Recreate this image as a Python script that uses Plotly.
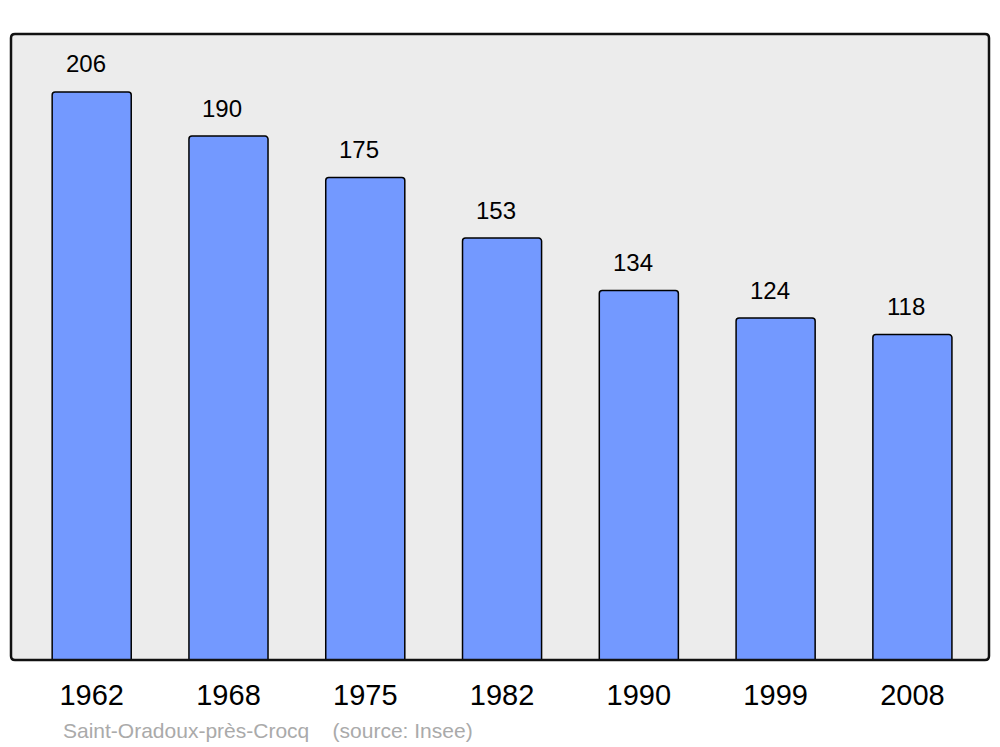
import plotly.graph_objects as go

years = ["1962", "1968", "1975", "1982", "1990", "1999", "2008"]
population = [206, 190, 175, 153, 134, 124, 118]
commune = "Saint-Oradoux-près-Crocq"
source = "(source: Insee)"

W, H = 1000, 747
# page body adds an 8px offset; compensate in margins
L, R, T, B = 3, 19, 26, 95
pos = list(range(len(years)))

fig = go.Figure()
fig.add_trace(go.Bar(
    x=pos, y=population, width=0.578,
    marker=dict(color="#7399ff", line=dict(color="black", width=1.5), cornerradius=3),
    hoverinfo="skip",
))

for xi, v in zip(pos, population):
    fig.add_annotation(x=xi, y=v, text=str(v), showarrow=False, xref="x", yref="y",
                       yanchor="middle", yshift=28, xshift=-6,
                       font=dict(family="Liberation Sans, Arial", size=24, color="black"))

pw, ph = W - L - R, H - T - B
fig.add_annotation(xref="paper", yref="paper", x=50 / pw, y=-70 / ph,
                   xanchor="left", yanchor="middle", showarrow=False,
                   text=commune + "\u00a0\u00a0\u00a0\u00a0" + source,
                   font=dict(family="Liberation Sans, Arial", size=21, color="#aaaaaa"))

# rounded frame around plot area
rx, ry = 4 / pw, 4 / ph
path = (f"M {rx},0 L {1-rx},0 Q 1,0 1,{ry} L 1,{1-ry} Q 1,1 {1-rx},1 "
        f"L {rx},1 Q 0,1 0,{1-ry} L 0,{ry} Q 0,0 {rx},0 Z")
fig.add_shape(type="path", xref="paper", yref="paper", path=path,
              line=dict(color="#111111", width=2.5), layer="above")

fig.update_layout(
    width=W, height=H,
    margin=dict(l=L, r=R, t=T, b=B),
    paper_bgcolor="white", plot_bgcolor="#ececec",
    showlegend=False,
    font=dict(family="Liberation Sans, Arial", color="black"),
    xaxis=dict(range=[-0.59, 6.56], tickvals=pos, ticktext=years, showgrid=False, zeroline=False,
               ticks="outside", ticklen=9, tickcolor="rgba(0,0,0,0)",
               tickfont=dict(size=29, family="Liberation Sans, Arial", color="black"), fixedrange=True),
    yaxis=dict(range=[0, 227], visible=False, showgrid=False, zeroline=False, fixedrange=True),
)

fig.write_html("out.html")
